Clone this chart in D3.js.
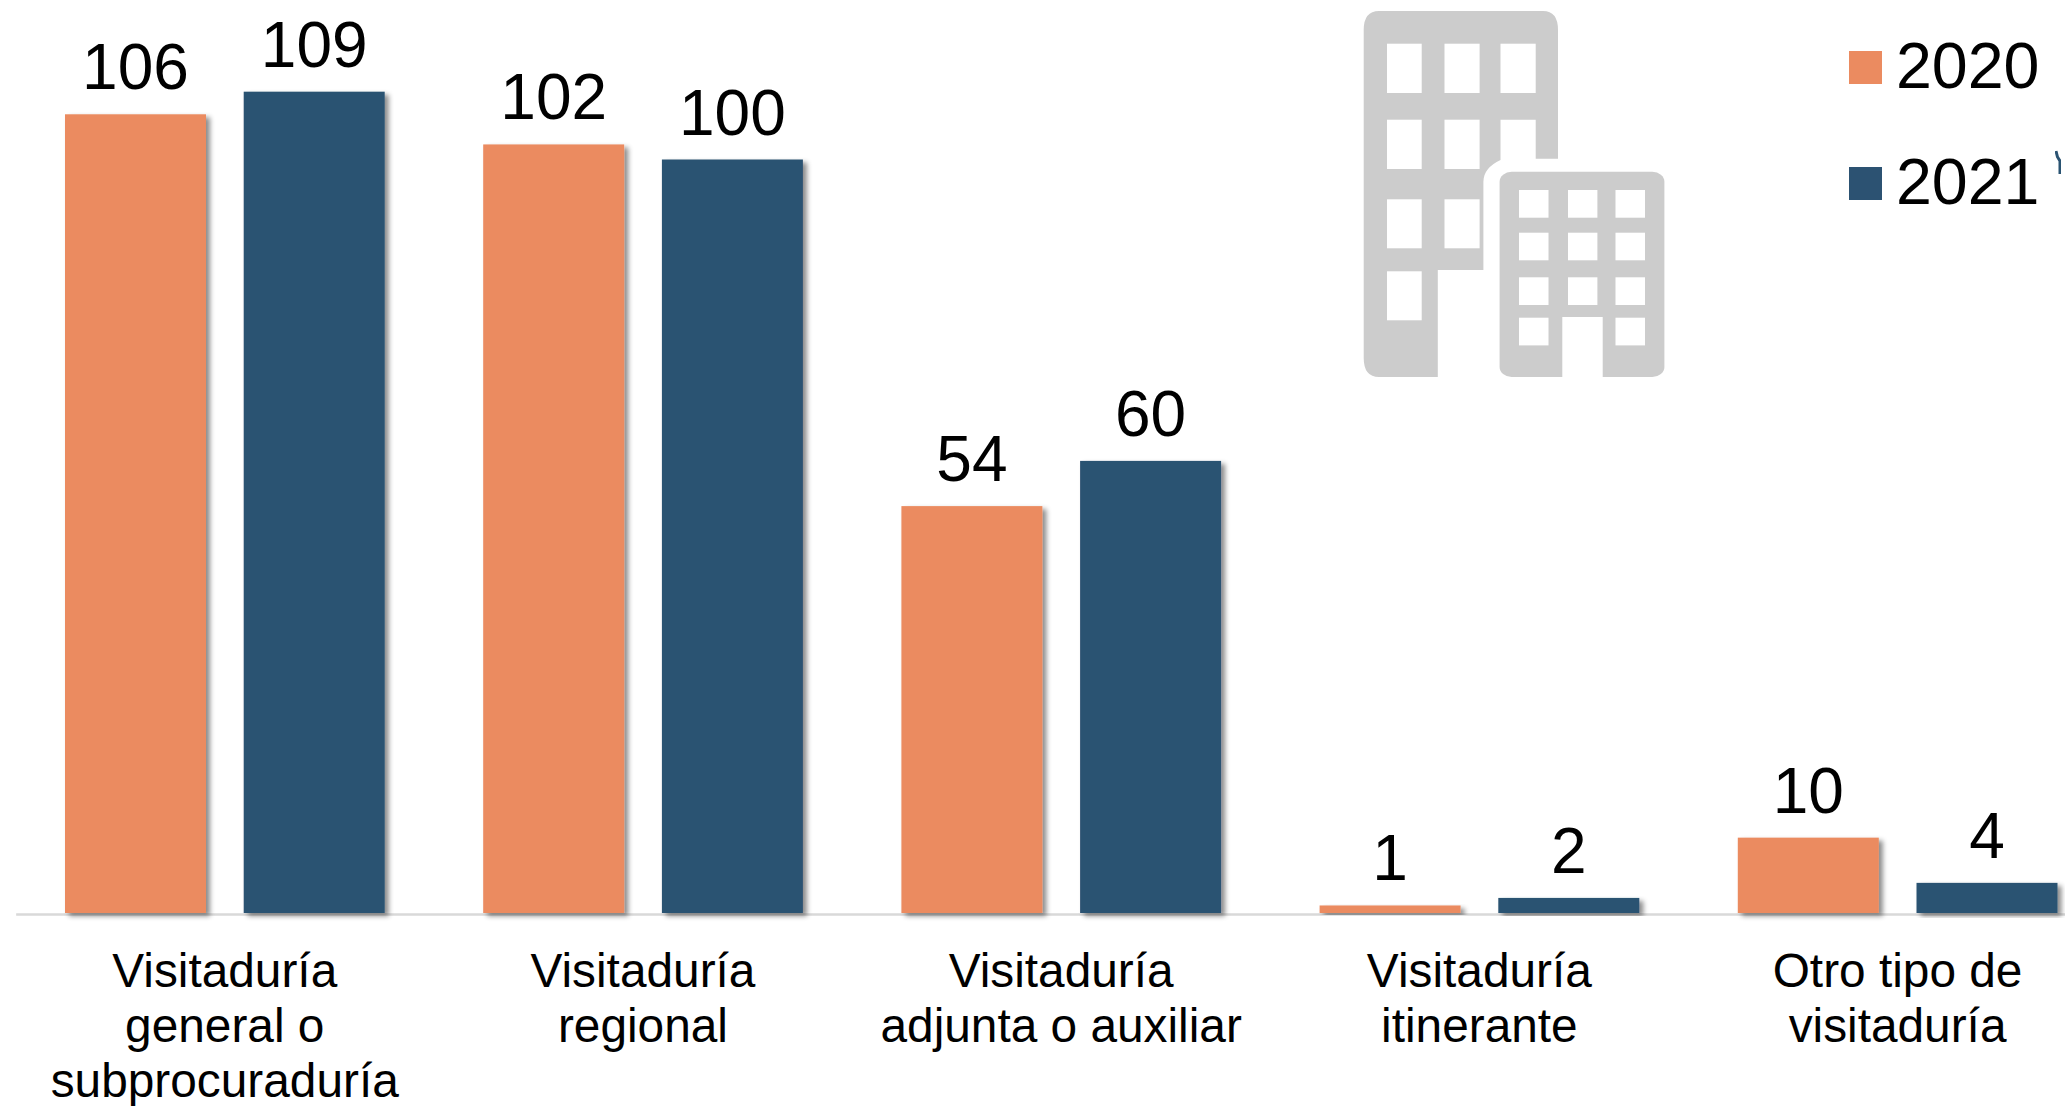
<!DOCTYPE html>
<html>
<head>
<meta charset="utf-8">
<script src="https://cdnjs.cloudflare.com/ajax/libs/d3/7.8.5/d3.min.js"></script>
<style>
    html, body { margin: 0; padding: 0; background: #fff; overflow: hidden; }
    svg { display: block; }
    text { font-family: "Liberation Sans", Arial, sans-serif; fill: #000; }
</style>
</head>
<body>
<svg id="chart"></svg>
<script>
const categories = ["Visitaduría general o subprocuraduría", "Visitaduría regional", "Visitaduría adjunta o auxiliar", "Visitaduría itinerante", "Otro tipo de visitaduría"];
const categoryLines = [
    ["Visitaduría", "general o", "subprocuraduría"],
    ["Visitaduría", "regional"],
    ["Visitaduría", "adjunta o auxiliar"],
    ["Visitaduría", "itinerante"],
    ["Otro tipo de", "visitaduría"]
];
const years = ["2020", "2021"];
const values2020 = [106, 102, 54, 1, 10];
const values2021 = [109, 100, 60, 2, 4];
const colors = ["#EB8B60", "#2C5272"];

const svgWidth = 2065;
const svgHeight = 1106;
const baseline = 913;
const unit = 7.535; // px per visitaduría, measured from the bars

const svg = d3.select("#chart").attr("width", svgWidth).attr("height", svgHeight);

const defs = svg.append("defs");
const shadow = defs.append("filter").attr("id", "barShadow")
    .attr("x", "-10%").attr("y", "-10%").attr("width", "125%").attr("height", "125%");
shadow.append("feDropShadow")
    .attr("dx", 4).attr("dy", 3).attr("stdDeviation", 2.5)
    .attr("flood-color", "#000").attr("flood-opacity", 0.45);
defs.append("filter").attr("id", "soft")
    .append("feGaussianBlur").attr("stdDeviation", 0.7);

const x0 = d3.scaleBand().domain(categories).range([15.65, 15.65 + 418.2 * categories.length]);
const x1 = d3.scaleBand().domain(years).range([49.35, 369.05]).paddingInner(0.211);
const y = d3.scaleLinear().domain([0, 100]).range([baseline, baseline - unit * 100]);

// axis line + wrapped category labels
const axis = svg.append("g")
    .attr("transform", `translate(0,${baseline + 1})`)
    .call(d3.axisBottom(x0).tickSize(0).tickSizeOuter(0).tickFormat(""));
axis.select(".domain").attr("stroke", "#D9D9D9").attr("stroke-width", 2.5);
axis.selectAll(".tick").select("text").remove();

const lineHeight = 55;
axis.selectAll(".tick").each(function (d, i) {
    d3.select(this).selectAll("text.cat")
        .data(categoryLines[i])
        .enter()
        .append("text")
        .attr("class", "cat")
        .attr("text-anchor", "middle")
        .attr("y", (l, j) => 73 + j * lineHeight)
        .attr("font-size", 47.8)
        .text(l => l);
});

const series = [values2020, values2021];
const groups = svg.selectAll("g.group")
    .data(categories)
    .enter()
    .append("g")
    .attr("class", "group")
    .attr("transform", d => `translate(${x0(d)},0)`);

groups.each(function (cat, i) {
    const rows = years.map((yr, s) => ({ yr, s, v: series[s][i] }));
    const g = d3.select(this);
    g.selectAll("rect")
        .data(rows)
        .enter()
        .append("rect")
        .attr("x", d => x1(d.yr))
        .attr("y", d => y(d.v))
        .attr("width", x1.bandwidth())
        .attr("height", d => baseline - y(d.v))
        .attr("fill", d => colors[d.s])
        .attr("filter", "url(#barShadow)");
    g.selectAll("text")
        .data(rows)
        .enter()
        .append("text")
        .attr("x", d => x1(d.yr) + x1.bandwidth() / 2)
        .attr("y", d => y(d.v) - 25)
        .attr("text-anchor", "middle")
        .attr("font-size", 64)
        .text(d => d.v);
});

// legend
const legendY = d3.scalePoint().domain(years).range([51, 167]);
const legend = svg.selectAll("g.legend")
    .data(years)
    .enter()
    .append("g")
    .attr("class", "legend")
    .attr("transform", d => `translate(1849,${legendY(d)})`);
legend.append("rect")
    .attr("width", 33).attr("height", 33)
    .attr("fill", (d, i) => colors[i]);
legend.append("text")
    .attr("x", 47).attr("y", 37)
    .attr("font-size", 64.5)
    .text(d => d);

// stray mark right of the legend
svg.append("path")
    .attr("d", "M2056,151 L2057.5,157 L2060,161 L2060,174")
    .attr("fill", "none")
    .attr("stroke", "#2C5272")
    .attr("stroke-width", 3)
    .attr("filter", "url(#soft)");

// building icon
const icon = svg.append("g").attr("fill", "#CCCCCC");
icon.append("path").attr("d",
    "M1379,11 H1543 Q1558,11 1558,30 V158.7 H1535.7 V119.7 H1500.5 V160 " +
    "Q1483.4,168 1483.4,181.7 V270 H1437.8 V377 H1379 Q1363.7,377 1363.7,358 V30 Q1363.7,11 1379,11 Z");
icon.append("rect")
    .attr("x", 1499.6).attr("y", 171.7).attr("width", 164.8).attr("height", 205.3)
    .attr("rx", 12).attr("ry", 10);

const bigCols = [[1387, 34.7], [1444.5, 35.1], [1500.5, 35.2]];
const bigRows = [[43.7, 49.3], [119.7, 49.3], [199.3, 49], [271.3, 49]];
const bigWindows = [[0, 0], [1, 0], [2, 0], [0, 1], [1, 1], [0, 2], [1, 2], [0, 3]];
icon.selectAll("rect.big")
    .data(bigWindows)
    .enter()
    .append("rect")
    .attr("class", "big")
    .attr("fill", "#fff")
    .attr("x", d => bigCols[d[0]][0]).attr("width", d => bigCols[d[0]][1])
    .attr("y", d => bigRows[d[1]][0]).attr("height", d => bigRows[d[1]][1]);

const smallCols = [[1519, 29.5], [1568, 29.4], [1615.5, 29.5]];
const smallRows = [[190, 27.7], [232.7, 27.6], [277.3, 27.7], [317.7, 27.7]];
const smallWindows = [[0, 0], [1, 0], [2, 0], [0, 1], [1, 1], [2, 1], [0, 2], [1, 2], [2, 2], [0, 3], [2, 3]];
icon.selectAll("rect.small")
    .data(smallWindows)
    .enter()
    .append("rect")
    .attr("class", "small")
    .attr("fill", "#fff")
    .attr("x", d => smallCols[d[0]][0]).attr("width", d => smallCols[d[0]][1])
    .attr("y", d => smallRows[d[1]][0]).attr("height", d => smallRows[d[1]][1]);
icon.append("rect")
    .attr("x", 1562.3).attr("y", 317).attr("width", 40.4).attr("height", 60)
    .attr("fill", "#fff");
</script>
</body>
</html>
